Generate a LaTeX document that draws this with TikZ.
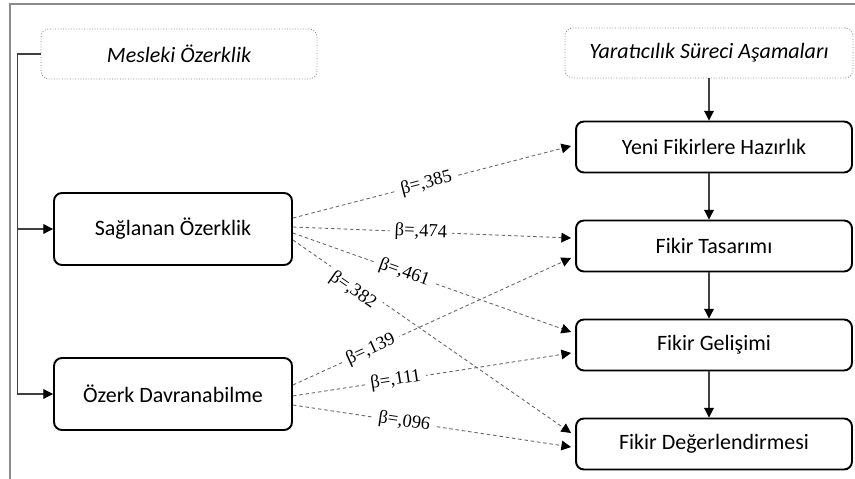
\documentclass[tikz,border=0pt]{standalone}
\usepackage{fontspec}
\setmainfont{Carlito}
\newfontfamily\betafont{Liberation Serif}
\usetikzlibrary{positioning, arrows.meta, calc}

\begin{document}
\begin{tikzpicture}[
                x=0.02cm, y=-0.02cm,
                >={Triangle[length=5.5pt, width=5.5pt, color=black]},
                font=\fontsize{12.5}{15}\selectfont,
                stage/.style={draw=black, line width=1.1pt, rounded corners=4.5pt, minimum width=5.52cm, minimum height=1.02cm, inner sep=0pt},
                factor/.style={stage, minimum width=4.76cm, minimum height=1.44cm},
                header/.style={draw=black!45, densely dotted, line width=0.5pt, rounded corners=4.5pt, minimum height=1cm, inner sep=0pt, font=\fontsize{12.5}{15}\selectfont\itshape},
                link/.style={->, draw=black!75, line width=0.6pt},
                effect/.style={->, draw=black!60, line width=0.5pt, dash pattern=on 2pt off 1.6pt},
                beta/.style={font=\betafont\fontsize{10.5}{12}\selectfont, fill=white, sloped, inner xsep=3pt, inner ysep=0.5pt},
            ]
                \useasboundingbox (0,0) rectangle (855,479);

                % Frame of the figure
                \draw[black!45, line width=0.85pt] (10,479) -- (10,4) -- (855,4);

                % Draw the header boxes
                \node[header, minimum width=5.52cm] (mes) at (179,54) {Mesleki Özerklik};
                \node[header, minimum width=5.76cm] (yar) at (709,53) {Yaratıcılık Süreci Aşamaları};

                % Draw the autonomy nodes
                \node[factor] (sag) at (173,229) {Sağlanan Özerklik};
                \node[factor] (oz) at (173,394) {Özerk Davranabilme};

                % Draw the creativity stages
                \foreach \name / \txt / \y in {yeni/Yeni Fikirlere Hazırlık/147, tas/Fikir Tasarımı/246, gel/Fikir Gelişimi/345, deg/Fikir Değerlendirmesi/444}
                    \node[stage] (\name) at (714,\y) {\txt};

                % Connect the header to the autonomy nodes
                \draw[link] (mes.west) -- ++(-23,0) |- (sag.west);
                \draw[link] (mes.west) -- ++(-23,0) |- (oz.west);

                % Stages follow one another
                \foreach \a / \b in {yar/yeni, yeni/tas, tas/gel, gel/deg}
                    \draw[link] (yar.south |- \a.south) -- (yar.south |- \b.north);

                % Connect every autonomy node with the stages
                \foreach \src / \sy / \dst / \dy / \p / \ys / \val in {sag/-11/yeni/-1/0.48/0/385, sag/-2/tas/-8/0.46/0/474, sag/4/gel/-13/0.40/0/461, sag/11/deg/-11/0.23/-4/382, oz/-9/tas/12/0.28/0/139, oz/2/gel/8/0.37/0/111, oz/11/deg/3/0.40/0/096}
                    \draw[effect] ($(\src.east)+(0,\sy)$) -- node[beta, pos=\p, yshift=\ys pt] {β=,\val} ($(\dst.west)+(-4,\dy)$);
            \end{tikzpicture}
\end{document}
